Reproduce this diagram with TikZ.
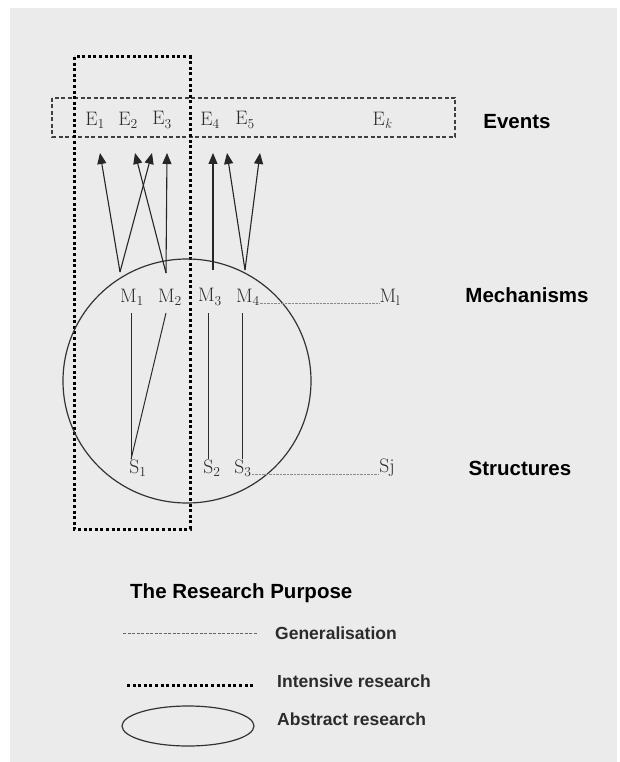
\documentclass[tikz,border=0pt]{standalone}
\usepackage{fontspec}
\setsansfont{Liberation Sans}
\usepackage{xcolor}
\usepackage{tikz}
\usetikzlibrary{arrows.meta}
\definecolor{rpPaper}{HTML}{EBEBEB}
\definecolor{rpInk}{HTML}{2B2B2B}
\definecolor{rpDots}{HTML}{8A8A8A}
\newcommand{\rpsub}[2]{#1\textsubscript{#2}}
\tikzset{
  rp diagram/.style={x=1pt, y=-1pt},
  rp sym/.style={inner sep=0pt, text=rpInk, font=\fontsize{19.5}{22}\selectfont},
  rp title/.style={inner sep=0pt, font=\sffamily\bfseries\fontsize{20.5}{24}\selectfont},
  rp key/.style={inner sep=0pt, anchor=west, text=rpInk,
    font=\sffamily\bfseries\fontsize{17.5}{21}\selectfont},
  rp arrow/.style={-{Triangle[length=11pt,width=9pt]}, draw=black!85, line width=1.1pt},
  rp link/.style={draw=rpInk, line width=1pt},
  rp general/.style={draw=rpDots, line width=1pt, dash pattern=on 2.5pt off 1pt},
  rp events/.style={draw=black!75, line width=1.4pt, dash pattern=on 4pt off 2.5pt},
  rp intensive/.style={draw=black, line width=3pt, dash pattern=on 3pt off 2.6pt},
  rp abstract/.style={draw=black!80, line width=1.2pt}
}

\begin{document}
\begin{tikzpicture}[rp diagram]
\useasboundingbox (0,0) rectangle (619,762);
\fill[white] (0,0) rectangle (619,762);
\fill[rpPaper] (10,8) rectangle (617,762);

% frames
\draw[rp events] (52,98) rectangle (455,137);
\draw[rp intensive] (74,57) rectangle (190,529);
\draw[rp abstract] (187,381) ellipse [x radius=124pt, y radius=122pt];

% events
\node[rp sym] (e1) at (95,120) {\rpsub{E}{1}};
\node[rp sym] (e2) at (128,120) {\rpsub{E}{2}};
\node[rp sym] (e3) at (162,120) {\rpsub{E}{3}};
\node[rp sym] (e4) at (210,120) {\rpsub{E}{4}};
\node[rp sym] (e5) at (245,120) {\rpsub{E}{5}};
\node[rp sym] (ek) at (382,120) {\rpsub{E}{\itshape k}};

% mechanisms
\node[rp sym] (m1) at (132,297) {\rpsub{M}{1}};
\node[rp sym] (m2) at (170,297) {\rpsub{M}{2}};
\node[rp sym] (m3) at (210,297) {\rpsub{M}{3}};
\node[rp sym] (m4) at (248,297) {\rpsub{M}{4}};
\node[rp sym] (ml) at (390,297) {\rpsub{M}{l}};

% structures
\node[rp sym] (s1) at (138,468) {\rpsub{S}{1}};
\node[rp sym] (s2) at (212,468) {\rpsub{S}{2}};
\node[rp sym] (s3) at (243,468) {\rpsub{S}{3}};
\node[rp sym] (sj) at (387,468) {Sj};

\node[rp title] (events) at (517,122) {Events};
\node[rp title] (mech) at (527,295) {Mechanisms};
\node[rp title] (struct) at (520,468) {Structures};

% roots and tips of the arrows
\coordinate (r1) at (120,272);
\coordinate (r2) at (166,273);
\coordinate (r3) at (213,270);
\coordinate (r4) at (245,270);
\coordinate (t1) at (100,153);
\coordinate (t2) at (135,153);
\coordinate (t3) at (152,153);
\coordinate (t4) at (167,153);
\coordinate (t5) at (213,153);
\coordinate (t6) at (227,153);
\coordinate (t7) at (260,153);
\draw[rp arrow] (r1) -- (t1);
\draw[rp arrow] (r1) -- (t3);
\draw[rp arrow] (r2) -- (t2);
\draw[rp arrow] (r2) -- (t4);
\draw[rp arrow] (r3) -- (t5);
\draw[rp arrow] (r4) -- (t6);
\draw[rp arrow] (r4) -- (t7);

% mechanisms to structures
\coordinate (b1) at (131,313);
\coordinate (b2) at (166,313);
\coordinate (b3) at (208,313);
\coordinate (b4) at (242,313);
\draw[rp link] (b1) -- (s1.north -| b1);
\draw[rp link] (b2) -- (s1.north -| b1);
\draw[rp link] (b3) -- (s2.north -| b3);
\draw[rp link] (b4) -- (s3.north -| b4);

% generalisation
\draw[rp general] ([yshift=-6pt]m4.east) -- ([yshift=-6pt]ml.west);
\draw[rp general] ([yshift=-6pt]s3.east) -- ([yshift=-6pt]sj.west);

% key
\node[rp title, anchor=west] (purpose) at (130,593) {The Research Purpose};
\draw[draw=black!60, line width=0.9pt, dash pattern=on 3pt off 1.5pt] (123,633) -- (257,633);
\node[rp key] (kgen) at (275,633) {Generalisation};
\draw[rp intensive] (127,685) -- (255,685);
\node[rp key] (kint) at (277,681) {Intensive research};
\draw[rp abstract] (188,726) ellipse [x radius=66pt, y radius=20pt];
\node[rp key] (kabs) at (277,719) {Abstract research};
\end{tikzpicture}
\end{document}
